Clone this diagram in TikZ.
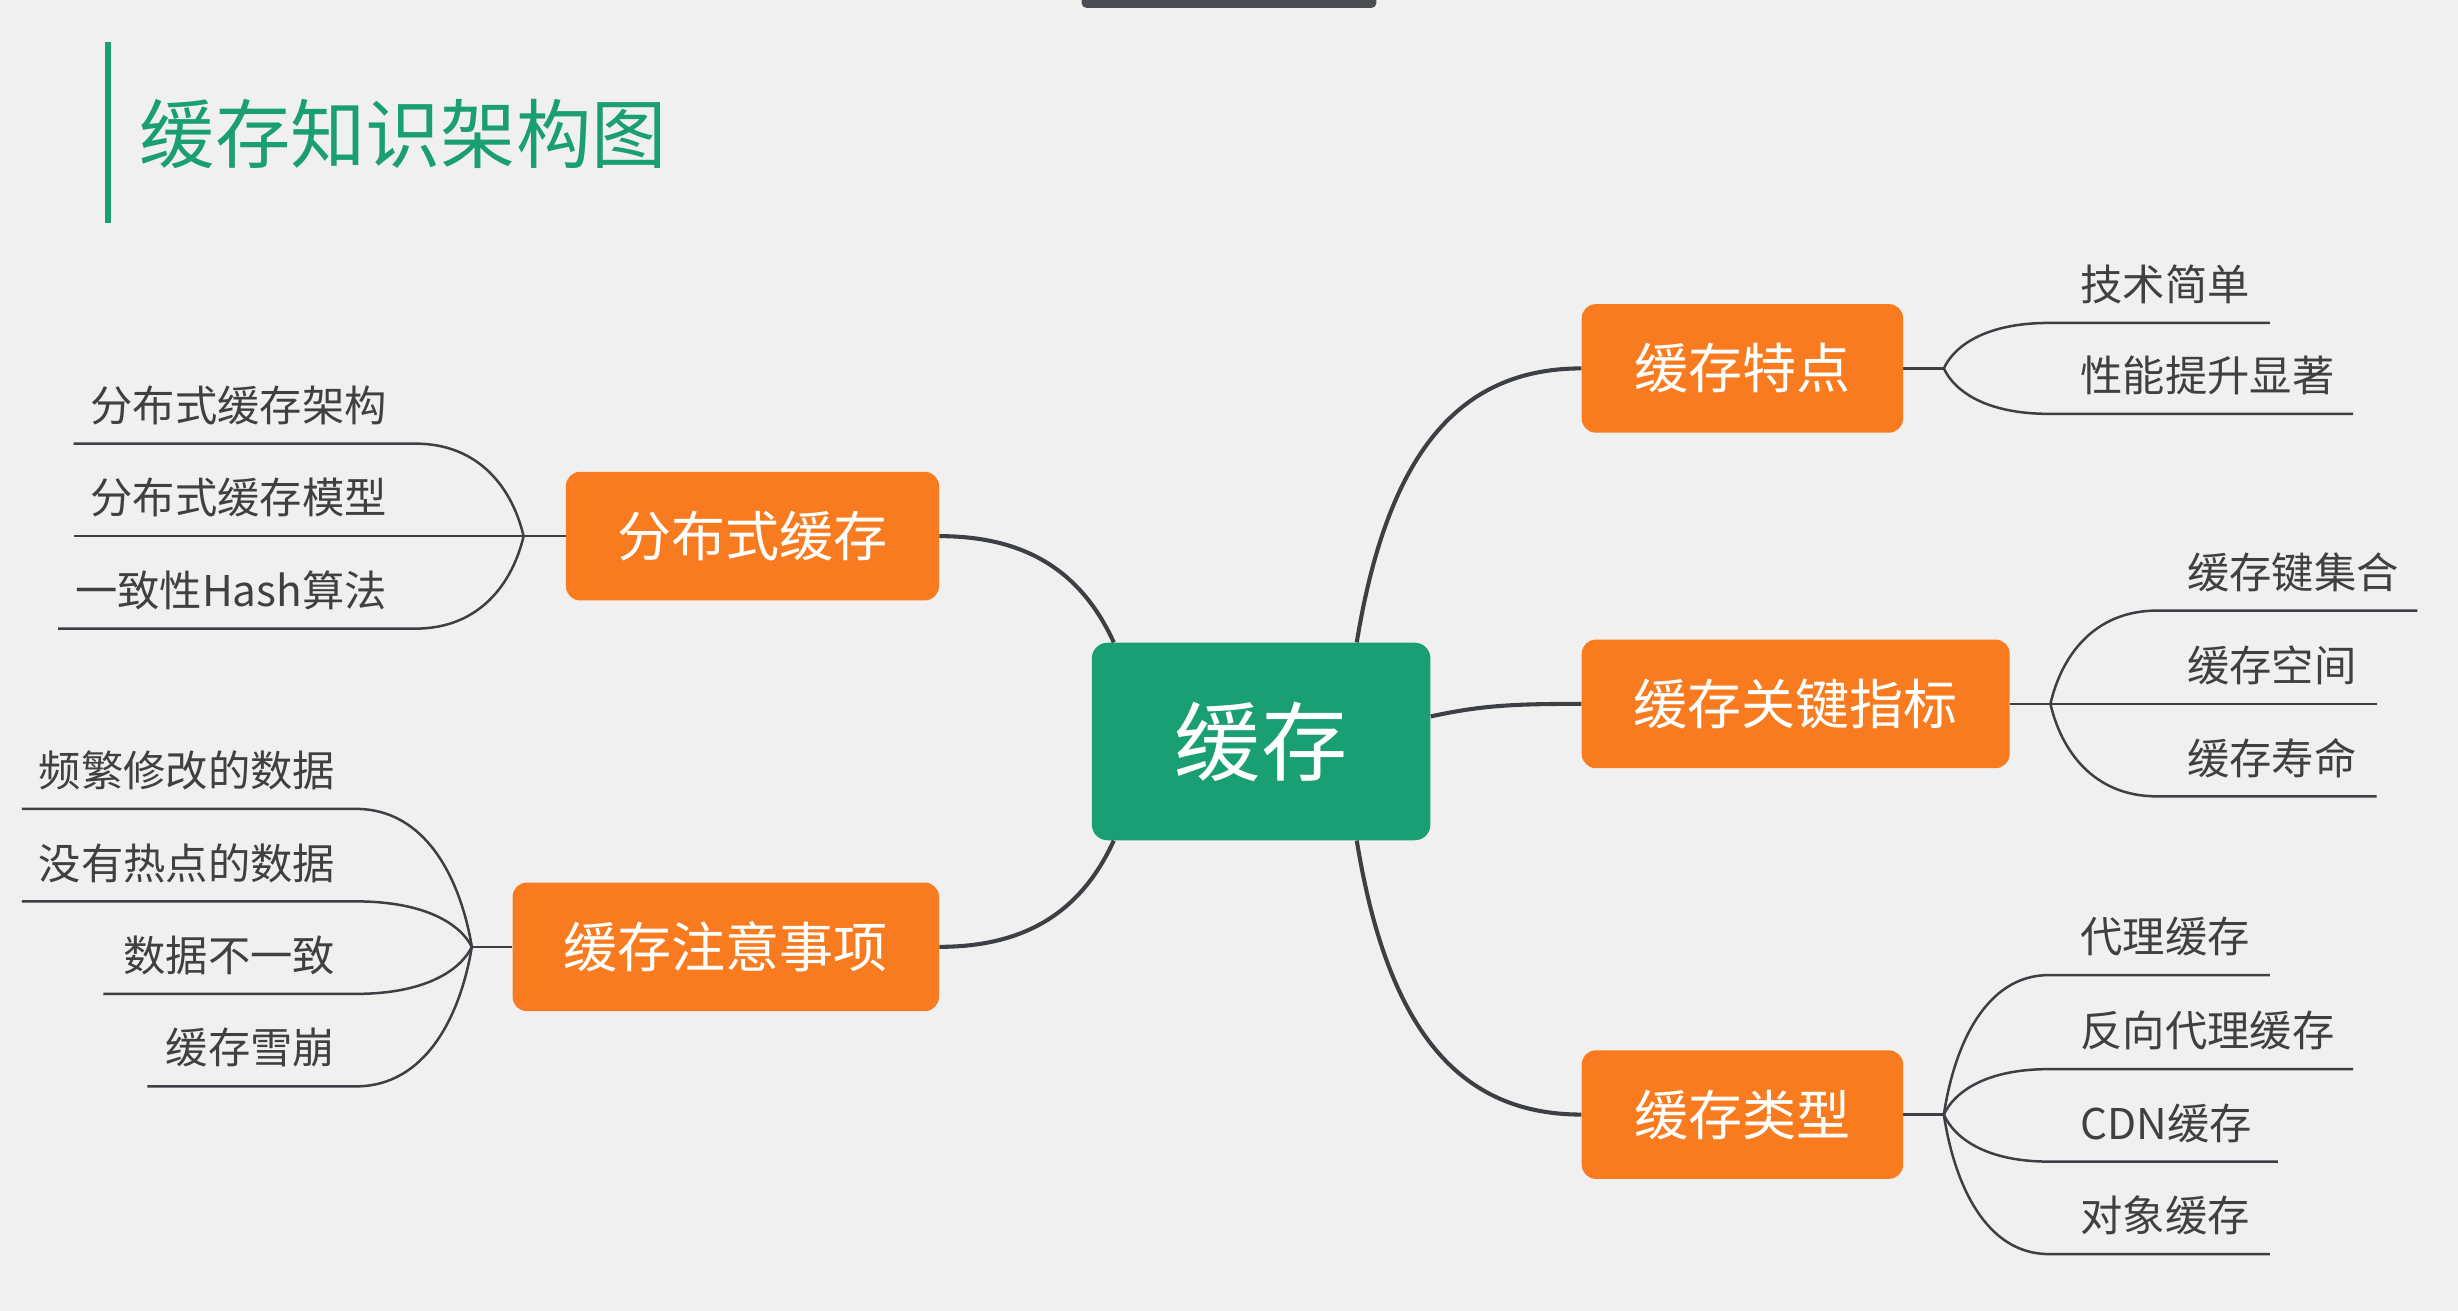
\documentclass[tikz,border=0pt]{standalone}
\usepackage{fontspec}
\setmainfont{Noto Sans CJK SC}
\usetikzlibrary{calc}
\definecolor{bgc}{HTML}{F0F0F0}
\definecolor{mmgreen}{HTML}{1A9E74}
\definecolor{mmorange}{HTML}{F97B20}
\definecolor{mmline}{HTML}{3C4044}
\definecolor{mmtext}{HTML}{404040}
\definecolor{mmbar}{HTML}{4B4F53}
% leaf: name, branch, underline y, curve end x, line end x, text x, text, anchor
\newcommand\mmleaf[8]{%
  \coordinate (#1s) at (#4,#3);
  \coordinate (#1e) at (#5,#3);
  \coordinate (#1p) at ($(#2)!0.1!(#1s)$);
  \coordinate (#1q) at ($(#2)!0.5!(#1s)$);
  \coordinate (#1r) at ($(#2)!0.4!(#1s)$);
  \node[leaf,anchor=#8] (#1) at (#6,{#3-24.5}) {#7};
  \draw[leafline] (#2) .. controls (#1p |- #1q) and (#1r |- #1s) .. (#1s) -- (#1e);
}
\begin{document}
\begin{tikzpicture}[x=1pt,y=-1pt,
  topic/.style={fill=mmorange, rounded corners=9pt, text=white,
    font=\fontsize{34.5}{40}\selectfont, inner sep=0pt, minimum height=82pt},
  root/.style={fill=mmgreen, rounded corners=10pt, text=white,
    font=\fontsize{55}{60}\selectfont, inner sep=0pt,
    minimum width=216pt, minimum height=126pt},
  leaf/.style={text=mmtext, font=\fontsize{27}{30}\selectfont, inner sep=0pt},
  mainline/.style={draw=mmline, line width=2.6pt},
  leafline/.style={draw=mmline, line width=1.6pt}]
\fill[bgc] (0,0) rectangle (1568,836.3);
\useasboundingbox (0,0) rectangle (1568,836.3);
% top dark bar
\fill[mmbar, rounded corners=3pt] (690,-8) rectangle (878,5);
% title
\draw[mmgreen, line width=4pt] (69,27) -- (69,142);
\node[anchor=west, text=mmgreen, font=\fontsize{48}{52}\selectfont, inner sep=0pt]
  (title) at (89,85.5) {缓存知识架构图};
% nodes
\node[root] (root) at (804.5,473) {缓存};
\node[topic, minimum width=205pt] (t1) at (1111.5,235) {缓存特点};
\node[topic, minimum width=273pt] (t2) at (1145.5,449) {缓存关键指标};
\node[topic, minimum width=205pt] (t3) at (1111.5,711) {缓存类型};
\node[topic, minimum width=238pt] (t4) at (480,342) {分布式缓存};
\node[topic, minimum width=272pt] (t5) at (463,604) {缓存注意事项};
% main connectors
\draw[mainline] ([xshift=61pt]root.north) .. controls (885,290) and (930,235) .. (t1.west);
\draw[mainline] ([yshift=16pt]root.east) .. controls (945,450) and (965,449) .. (t2.west);
\draw[mainline] ([xshift=61pt]root.south) .. controls (885,656) and (930,711) .. (t3.west);
\draw[mainline] ([xshift=-94pt]root.north) .. controls (690,365) and (655,342) .. (t4.east);
\draw[mainline] ([xshift=-94pt]root.south) .. controls (690,581) and (655,604) .. (t5.east);
% branch points
\coordinate (b1) at (1240,235);
\coordinate (b2) at (1308,449);
\coordinate (b3) at (1240,711);
\coordinate (b4) at (334,342);
\coordinate (b5) at (301,604);
\draw[leafline] (t1.east) -- (b1);
\draw[leafline] (t2.east) -- (b2);
\draw[leafline] (t3.east) -- (b3);
\draw[leafline] (t4.west) -- (b4);
\draw[leafline] (t5.west) -- (b5);
% leaves: 缓存特点
\mmleaf{la}{b1}{206}{1307}{1448}{1327}{技术简单}{west}
\mmleaf{lb}{b1}{264}{1307}{1501}{1327}{性能提升显著}{west}
% 缓存关键指标
\mmleaf{lc}{b2}{389.5}{1376}{1542}{1395}{缓存键集合}{west}
\mmleaf{ld}{b2}{449}{1376}{1516}{1395}{缓存空间}{west}
\mmleaf{le}{b2}{508}{1376}{1516}{1395}{缓存寿命}{west}
% 缓存类型
\mmleaf{lf}{b3}{622}{1307}{1448}{1327}{代理缓存}{west}
\mmleaf{lg}{b3}{682}{1307}{1501}{1327}{反向代理缓存}{west}
\mmleaf{lh}{b3}{741}{1307}{1453}{1327}{CDN缓存}{west}
\mmleaf{li}{b3}{800}{1307}{1448}{1327}{对象缓存}{west}
% 分布式缓存
\mmleaf{lj}{b4}{283}{265}{47}{247}{分布式缓存架构}{east}
\mmleaf{lk}{b4}{342}{265}{47}{247}{分布式缓存模型}{east}
\mmleaf{ll}{b4}{401}{265}{37}{247}{一致性Hash算法}{east}
% 缓存注意事项
\mmleaf{lm}{b5}{516}{227}{14}{214}{频繁修改的数据}{east}
\mmleaf{ln}{b5}{575}{227}{14}{214}{没有热点的数据}{east}
\mmleaf{lo}{b5}{634}{227}{66}{214}{数据不一致}{east}
\mmleaf{lp}{b5}{693}{227}{94}{214}{缓存雪崩}{east}
\end{tikzpicture}
\end{document}
